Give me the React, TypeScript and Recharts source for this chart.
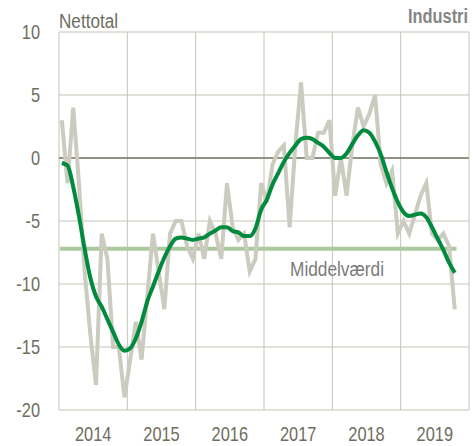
import React from 'react';
import { LineChart, Line, XAxis, YAxis, CartesianGrid, ReferenceLine } from 'recharts';

// monthly values, Jan 2014 - Oct 2019
const years = ['2014', '2015', '2016', '2017', '2018', '2019'];
const monthly = [
  3, -2, 4, -2, -9, -14, -18, -6, -8, -15, -15, -19,
  -16, -13, -16, -11, -6, -9, -12, -6, -5, -5, -7, -8,
  -6, -8, -5, -6, -8, -2, -5.5, -6.5, -6, -9, -8, -2,
  -3.5, -0.5, 0.5, 1, -5.5, 1, 6, 0, 0, 2, 2, 3,
  -3, 0, -3, 1, 4, 2.5, 3.5, 5, -0.5, -2, -1, -6,
  -5, -6, -4.5, -3, -2, -6, -6.5, -6, -7, -12,
];
const trend = [
  -0.4, -0.6, -2.3, -4.6, -7.2, -9.5, -11, -11.8, -12.8, -13.8, -14.8, -15.3,
  -15.1, -14.3, -13, -11.4, -10.2, -9, -7.9, -7, -6.4, -6.3, -6.4, -6.5,
  -6.4, -6.3, -6, -5.75, -5.5, -5.5, -5.8, -5.9, -6.2, -6.2, -5.6, -4.1,
  -3.3, -2.1, -1.2, -0.3, 0.4, 1, 1.5, 1.6, 1.5, 1.2, 0.9, 0.4,
  0, 0, 0.35, 1.1, 1.8, 2.2, 2, 1.3, 0.3, -1.1, -2.4, -3.5,
  -4.3, -4.6, -4.5, -4.4, -4.7, -5.5, -6.4, -7.3, -8.3, -9.1,
];
const mean = -7.2;
const yTicks = [10, 5, 0, -5, -10, -15, -20];

const data = monthly.map((v, i) => ({ i, monthly: v, trend: trend[i] }));
const yearCenters = years.map((_, k) => k * 12 + 5.5);
const yearEdges = [...years.map((_, k) => k * 12 - 0.5), years.length * 12 - 0.5];

const font = '"Liberation Sans", Arial, sans-serif';
const textColor = '#6d6d60';
const narrow = 0.82;

// chart fills the window exactly, so no scrollbars
if (typeof document !== 'undefined') {
  document.body.style.margin = '0';
  document.documentElement.style.overflow = 'hidden';
}

// narrow text (Arial Narrow look) by squeezing Liberation Sans
const NarrowText = ({ x, y, anchor, dy, fill, children }: any) => (
  <text
    x={0}
    y={0}
    dy={dy}
    transform={`translate(${x},${y}) scale(${narrow},1)`}
    textAnchor={anchor}
    fontSize={20}
    fontFamily={font}
    fill={fill}
  >
    {children}
  </text>
);

const XTick = ({ x, y, payload }: any) => (
  <NarrowText x={x} y={y} anchor="middle" dy="0.71em" fill={textColor}>
    {years[Math.round((payload.value - 5.5) / 12)]}
  </NarrowText>
);

const YTick = ({ x, y, payload }: any) => (
  <NarrowText x={x} y={y} anchor="end" dy="0.355em" fill={textColor}>
    {payload.value}
  </NarrowText>
);

const App = () => {
  return (
    <div style={{ position: 'relative', width: 465, height: 438, margin: '8px 0 0 8px', overflow: 'hidden' }}>
      <LineChart width={465} height={438} data={data} margin={{ top: 24, right: 4, bottom: 0, left: 0 }}>
        <XAxis xAxisId="grid" dataKey="i" type="number" domain={[-0.5, 71.5]} ticks={yearEdges} hide />
        <CartesianGrid xAxisId="grid" stroke="#c4c4b6" strokeWidth={1} />
        <XAxis
          dataKey="i"
          type="number"
          domain={[-0.5, 71.5]}
          ticks={yearCenters}
          axisLine={false}
          tickLine={false}
          tickSize={0}
          tickMargin={17}
          height={36}
          tick={<XTick />}
        />
        <YAxis
          domain={[-20, 10]}
          ticks={yTicks}
          axisLine={false}
          tickLine={false}
          tickSize={0}
          tickMargin={19}
          width={51}
          tick={<YTick />}
        />
        <ReferenceLine y={0} stroke="#76766a" strokeWidth={1.5} />
        <ReferenceLine
          segment={[{ x: -0.3, y: mean }, { x: 69.3, y: mean }]}
          stroke="#abc99f"
          strokeWidth={4}
        />
        <Line
          dataKey="monthly"
          type="linear"
          stroke="#cbcbbf"
          strokeWidth={4}
          dot={false}
          isAnimationActive={false}
        />
        <Line
          dataKey="trend"
          type="monotone"
          stroke="#008a3d"
          strokeWidth={4}
          dot={false}
          isAnimationActive={false}
        />
      </LineChart>
      <svg width={465} height={438} style={{ position: 'absolute', left: 0, top: 0, pointerEvents: 'none' }}>
        <g fontFamily={font} fontSize={20}>
          <text x={51} y={20.3} fill={textColor} textLength={59} lengthAdjust="spacingAndGlyphs">Nettotal</text>
          <text x={400} y={15.3} fill="#858585" fontWeight="bold" textLength={60} lengthAdjust="spacingAndGlyphs">Industri</text>
          <text x={282} y={268} fill="#7b7b7b" textLength={94} lengthAdjust="spacingAndGlyphs">Middelværdi</text>
        </g>
      </svg>
    </div>
  );
};

export default App;
